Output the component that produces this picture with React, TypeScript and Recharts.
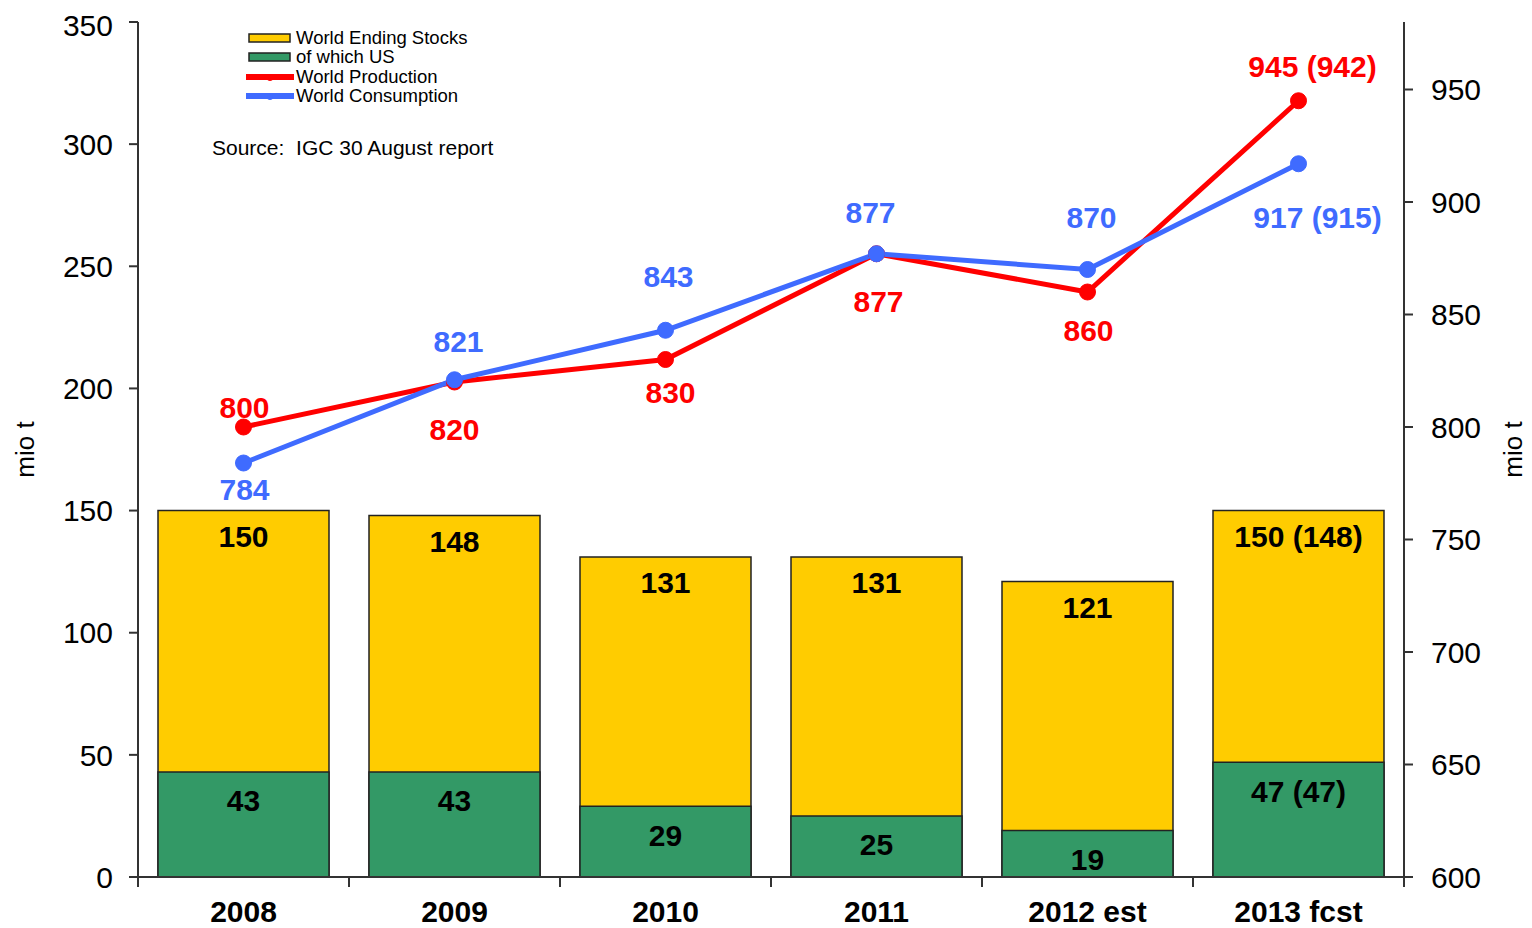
import {
  ComposedChart, Bar, Line, XAxis, YAxis, LabelList, Label,
} from "recharts";

// marketing years
const years = ["2008", "2009", "2010", "2011", "2012 est", "2013 fcst"];
// world ending stocks / of which US (mio t)
const stocks = [150, 148, 131, 131, 121, 150];
const usStocks = [43, 43, 29, 25, 19, 47];
// production / consumption (mio t)
const production = [800, 820, 830, 877, 860, 945];
const consumption = [784, 821, 843, 877, 870, 917];
// label text (previous report in brackets)
const stockLabels = ["150", "148", "131", "131", "121", "150 (148)"];
const usLabels = ["43", "43", "29", "25", "19", "47 (47)"];
const prodLabels = ["800", "820", "830", "877", "860", "945 (942)"];
const consLabels = ["784", "821", "843", "877", "870", "917 (915)"];

const leftTicks = [0, 50, 100, 150, 200, 250, 300, 350];
const rightTicks = [600, 650, 700, 750, 800, 850, 900, 950];
const edgeTicks = [0, 1, 2, 3, 4, 5, 6];

const YELLOW = "#ffcc00";
const GREEN = "#339966";
const RED = "#ff0000";
const BLUE = "#3f6bff";
const FONT = "'Liberation Sans', Arial, sans-serif";

// label placement relative to each point
const prodOff = [[1, -20], [0, 47], [5, 33], [2, 48], [1, 38], [14, -34]];
const consOff = [[1, 26], [4, -38], [3, -54], [-6, -41], [4, -52], [19, 54]];

const data = years.map((y, i) => ({
  year: y,
  stocks: stocks[i],
  us: usStocks[i],
  prod: production[i],
  cons: consumption[i],
  edge: i,
}));

const legendItems = [
  { name: "World Ending Stocks", color: YELLOW, kind: "box" },
  { name: "of which US", color: GREEN, kind: "box" },
  { name: "World Production", color: RED, kind: "line" },
  { name: "World Consumption", color: BLUE, kind: "line" },
];

function LegendBox() {
  return (
    <div style={{ position: "absolute", left: 204, top: 20, fontFamily: FONT, color: "#000" }}>
      {legendItems.map((it) => (
        <div key={it.name} style={{ display: "flex", alignItems: "center", height: 19.5, marginLeft: 34 }}>
          <svg width={48} height={12} style={{ marginRight: 2 }}>
            {it.kind === "box" ? (
              <rect x={3} y={2} width={41} height={8} fill={it.color} stroke="#222" strokeWidth={1.5} />
            ) : (
              <g>
                <line x1={1} y1={6} x2={47} y2={6} stroke={it.color} strokeWidth={6} strokeLinecap="round" />
                <circle cx={24} cy={7} r={3} fill={it.color} />
              </g>
            )}
          </svg>
          <span style={{ fontSize: 18.5, whiteSpace: "nowrap" }}>{it.name}</span>
        </div>
      ))}
      <div style={{ fontSize: 21, marginTop: 30, whiteSpace: "nowrap" }}>Source:&nbsp; IGC 30 August report</div>
    </div>
  );
}

function pointLabel(texts: string[], offs: number[][], color: string) {
  return (p: any) => {
    const i = p.index;
    return (
      <text
        x={p.x + offs[i][0]}
        y={p.y + offs[i][1]}
        textAnchor="middle"
        dominantBaseline="central"
        fill={color}
        fontSize={30}
        fontWeight="bold"
        fontFamily={FONT}
      >
        {texts[i]}
      </text>
    );
  };
}

function barLabel(texts: string[], off: number) {
  return (p: any) => (
    <text
      x={p.x + p.width / 2}
      y={p.y + off}
      textAnchor="middle"
      dominantBaseline="central"
      fill="#000"
      fontSize={30}
      fontWeight="bold"
      fontFamily={FONT}
    >
      {texts[p.index]}
    </text>
  );
}

function axisTitle(dx: number) {
  return (p: any) => {
    const vb = p.viewBox;
    const cx = vb.x + dx;
    const cy = vb.y + vb.height / 2;
    return (
      <text x={cx} y={cy} transform={`rotate(-90 ${cx} ${cy})`} textAnchor="middle"
        dominantBaseline="central" fontSize={26} fontFamily={FONT} fill="#000">mio t</text>
    );
  };
}

export default function App() {
  const axisStroke = { stroke: "#333", strokeWidth: 2 };
  const tickFont = { fontSize: 30, fill: "#000", fontFamily: FONT };
  return (
    <div style={{ position: "relative", width: 1524, height: 920 }}>
      <ComposedChart
        width={1524}
        height={920}
        data={data}
        margin={{ top: 14, right: 0, bottom: 0, left: 0 }}
        barGap={-171}
        barSize={171}
      >
        <XAxis
          dataKey="year"
          axisLine={axisStroke}
          tickLine={false}
          tickSize={0}
          tickMargin={24}
          height={1}
          tick={{ ...tickFont, fontWeight: "bold" }}
          interval={0}
        />
        <XAxis
          xAxisId="edges"
          type="number"
          dataKey="edge"
          domain={[0, 6]}
          ticks={edgeTicks}
          allowDataOverflow
          tick={{ fontSize: 0 }}
          tickFormatter={() => ""}
          axisLine={false}
          tickLine={axisStroke}
          tickSize={9}
          height={50}
        />
        <YAxis
          yAxisId="left"
          domain={[0, 350]}
          ticks={leftTicks}
          width={130}
          axisLine={axisStroke}
          tickLine={axisStroke}
          tickSize={9}
          tickMargin={16}
          tick={tickFont}
        >
          <Label content={axisTitle(17)} />
        </YAxis>
        <YAxis
          yAxisId="right"
          orientation="right"
          domain={[600, 980]}
          ticks={rightTicks}
          allowDataOverflow
          width={128}
          axisLine={axisStroke}
          tickLine={axisStroke}
          tickSize={9}
          tickMargin={18}
          tick={tickFont}
        >
          <Label content={axisTitle(109)} />
        </YAxis>
        <Bar yAxisId="left" dataKey="stocks" name="World Ending Stocks" fill={YELLOW} stroke="#222" strokeWidth={1.5} isAnimationActive={false}>
          <LabelList dataKey="stocks" content={barLabel(stockLabels, 26)} />
        </Bar>
        <Bar yAxisId="left" dataKey="us" name="of which US" fill={GREEN} stroke="#222" strokeWidth={1.5} isAnimationActive={false}>
          <LabelList dataKey="us" content={barLabel(usLabels, 29)} />
        </Bar>
        <Line yAxisId="right" dataKey="prod" name="World Production" stroke={RED} strokeWidth={5}
          dot={{ r: 8, fill: RED, stroke: RED, strokeWidth: 1 }} isAnimationActive={false}>
          <LabelList dataKey="prod" content={pointLabel(prodLabels, prodOff, RED)} />
        </Line>
        <Line yAxisId="right" dataKey="cons" name="World Consumption" stroke={BLUE} strokeWidth={5}
          dot={{ r: 8, fill: BLUE, stroke: BLUE, strokeWidth: 1 }} isAnimationActive={false}>
          <LabelList dataKey="cons" content={pointLabel(consLabels, consOff, BLUE)} />
        </Line>
      </ComposedChart>
      <LegendBox />
    </div>
  );
}
